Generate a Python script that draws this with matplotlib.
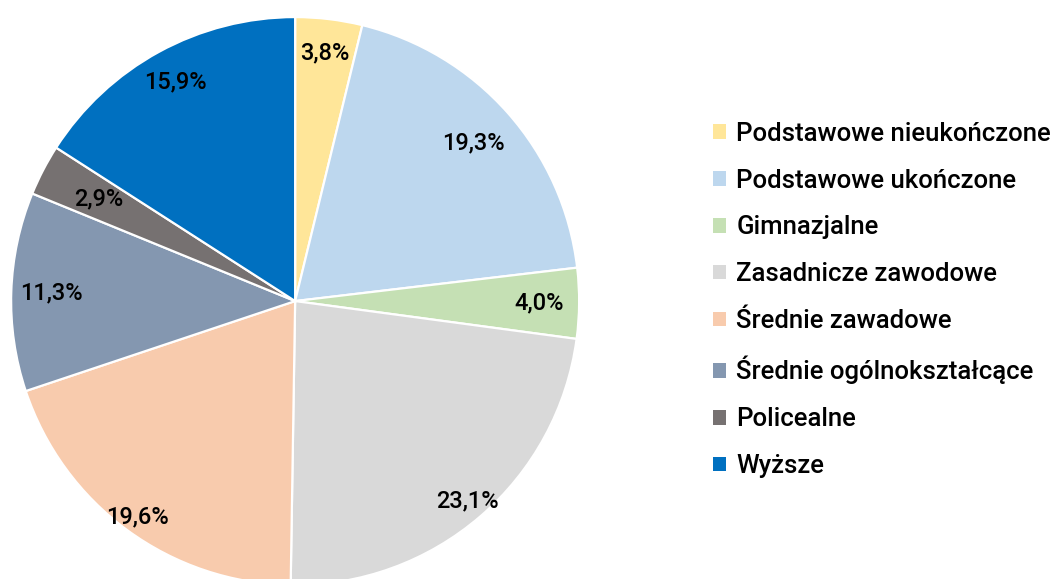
import numpy as np
import matplotlib.pyplot as plt
from matplotlib.patches import Patch

plt.rcParams['font.family'] = ['Roboto', 'DejaVu Sans']

labels = ['Podstawowe nieukończone', 'Podstawowe ukończone', 'Gimnazjalne',
          'Zasadnicze zawodowe', 'Średnie zawadowe', 'Średnie ogólnokształcące',
          'Policealne', 'Wyższe']
values = [3.8, 19.3, 4.0, 23.1, 19.6, 11.3, 2.9, 15.9]
colors = ['#FFE699', '#BDD7EE', '#C5E0B4', '#D9D9D9', '#F8CBAD', '#8497B0',
          '#767171', '#0070C0']
label_dist = [0.88, 0.84, 0.86, 0.93, 0.94, 0.86, 0.78, 0.88]

fig = plt.figure(figsize=(10.62, 5.79), dpi=100)
ax = fig.add_axes([0.0104, -0.0105, 0.535, 0.981])

wedges, _ = ax.pie(values, colors=colors, startangle=90, counterclock=False,
                   radius=1, wedgeprops=dict(edgecolor='white', linewidth=1.6))

total = sum(values)
cum = 0
for v, d in zip(values, label_dist):
    mid = 90 - (cum + v / 2) / total * 360
    cum += v
    x = d * np.cos(np.radians(mid))
    y = d * np.sin(np.radians(mid))
    ax.text(x, y, f'{v:.1f}%'.replace('.', ','), ha='center', va='center',
            fontsize=17, fontweight='medium', color='black')

ax.set_xlim(-1, 1)
ax.set_ylim(-1, 1)
ax.set_aspect('equal')
ax.axis('off')

handles = [Patch(facecolor=c, edgecolor='none') for c in colors]
fig.legend(handles, labels, loc='center left', bbox_to_anchor=(0.6715, 0.482),
           frameon=False, prop={'weight': 'medium', 'size': 18.5},
           handlelength=0.5, handleheight=0.5, handletextpad=0.4,
           labelspacing=0.89, borderpad=0, borderaxespad=0)

fig.savefig('out.png', dpi=100)
